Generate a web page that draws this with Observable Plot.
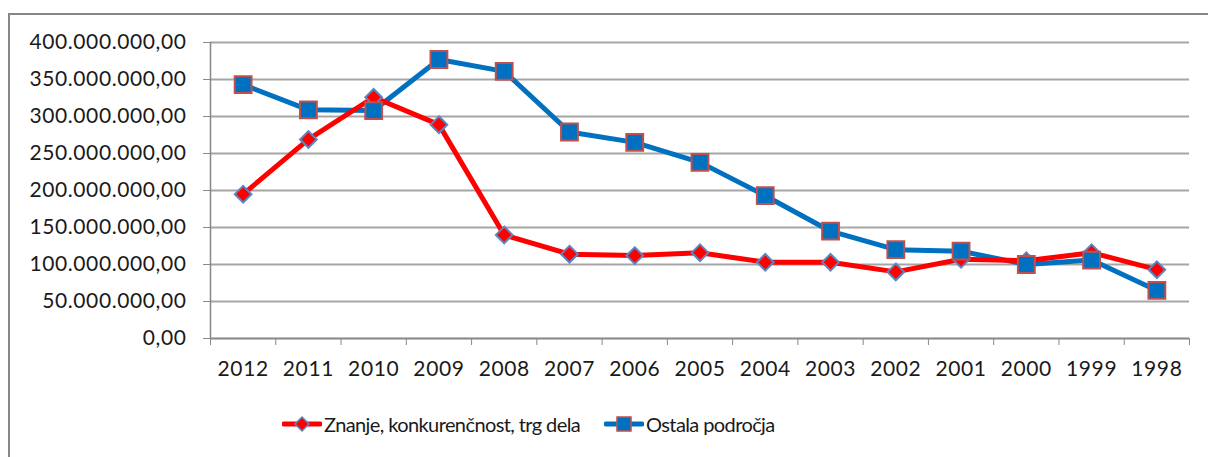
<!DOCTYPE html>
<html>
<head>
<meta charset="utf-8">
<script src="https://cdn.jsdelivr.net/npm/d3@7"></script>
<script src="https://cdn.jsdelivr.net/npm/@observablehq/plot@0.6"></script>
<style>
  html, body { margin: 0; padding: 0; background: #fff; }
  body { width: 1208px; height: 457px; position: relative; overflow: hidden; font-family: Lato, "Open Sans", sans-serif; }
  #frame { position: absolute; left: 8px; top: 13px; width: 1210px; height: 460px; border-left: 2px solid #878787; border-top: 2px solid #878787; }
  #chart { position: absolute; left: 0; top: 0; }
  #chart text { letter-spacing: 0.6px; }
  #legend { position: absolute; top: 409px; left: 0; width: 1208px; height: 30px; font-size: 20px; letter-spacing: -0.6px; color: #1a1a1a; }
  .item { position: absolute; top: 0; display: flex; align-items: center; height: 30px; white-space: nowrap; }
  .item svg { margin-right: 2px; }
</style>
</head>
<body>
<div id="frame"></div>
<div id="chart"></div>
<div id="legend"></div>
<script>
const years = ["2012","2011","2010","2009","2008","2007","2006","2005","2004","2003","2002","2001","2000","1999","1998"];
const znanje = [195, 269, 326, 289, 140, 114, 112, 116, 103, 103, 90, 107, 105, 116, 93];
const ostala = [343, 309, 308, 377, 361, 279, 265, 238, 193, 145, 120, 118, 100, 106, 65];
const seriesNames = ["Znanje, konkurenčnost, trg dela", "Ostala področja"];
const yTicks = [0, 50, 100, 150, 200, 250, 300, 350, 400];

const M = 1e6;
const rowsA = years.map((y, i) => ({i, year: y, v: znanje[i] * M}));
const rowsB = years.map((y, i) => ({i, year: y, v: ostala[i] * M}));
const locale = d3.formatLocale({decimal: ",", thousands: ".", grouping: [3], currency: ["", ""]});
const fmt = locale.format(",.2f");
const boundaries = d3.range(years.length + 1).map(k => k - 0.5);

const RED = "#ff0000", BLUE = "#0070c0";
const plot = Plot.plot({
  width: 1208,
  height: 395,
  marginLeft: 210,
  marginRight: 19,
  marginTop: 42,
  marginBottom: 57,
  style: {fontFamily: "Lato, 'Open Sans', sans-serif", fontSize: "21px", color: "#1a1a1a", background: "transparent"},
  x: {type: "linear", domain: [-0.5, years.length - 0.5]},
  y: {domain: [0, 400 * M]},
  marks: [
    Plot.gridY(yTicks.map(t => t * M), {stroke: "#a6a6a6", strokeOpacity: 1, strokeWidth: 2}),
    Plot.axisY({ticks: yTicks.map(t => t * M), tickFormat: fmt, tickSize: 7, tickPadding: 17, stroke: "#888", label: null, fontSize: 21}),
    Plot.ruleX([-0.5], {stroke: "#888", strokeWidth: 1.5}),
    Plot.ruleY([0], {stroke: "#888", strokeWidth: 1.5}),
    Plot.axisX({ticks: boundaries, tickFormat: () => "", tickSize: 7, stroke: "#888", label: null}),
    Plot.axisX({ticks: d3.range(years.length), tickFormat: i => years[i], tickSize: 0, tickPadding: 23, label: null, fontSize: 21}),
    Plot.line(rowsB, {x: "i", y: "v", stroke: BLUE, strokeWidth: 5}),
    Plot.line(rowsA, {x: "i", y: "v", stroke: RED, strokeWidth: 5}),
    Plot.dot(rowsA, {x: "i", y: "v", symbol: "diamond2", r: 7.5, fill: RED, stroke: "#5b86c2", strokeWidth: 2}),
    Plot.dot(rowsB, {x: "i", y: "v", symbol: "square", r: 9.5, fill: BLUE, stroke: "#c0504d", strokeWidth: 2})
  ]
});
document.getElementById("chart").appendChild(plot);

// legend
const legend = document.getElementById("legend");
const items = [
  {name: seriesNames[0], left: 282, color: RED, marker: "diamond"},
  {name: seriesNames[1], left: 604, color: BLUE, marker: "square"}
];
for (const it of items) {
  const d = document.createElement("div");
  d.className = "item";
  d.style.left = it.left + "px";
  const m = it.marker === "diamond"
    ? `<polygon points="20,8 27,15 20,22 13,15" fill="${RED}" stroke="#5b86c2" stroke-width="1.5"/>`
    : `<rect x="13" y="8" width="14" height="14" fill="${BLUE}" stroke="#c0504d" stroke-width="1.5"/>`;
  d.innerHTML = `<svg width="40" height="30"><line x1="2" x2="38" y1="15" y2="15" stroke="${it.color}" stroke-width="5" stroke-linecap="round"/>${m}</svg><span>${it.name}</span>`;
  legend.appendChild(d);
}
</script>
</body>
</html>
